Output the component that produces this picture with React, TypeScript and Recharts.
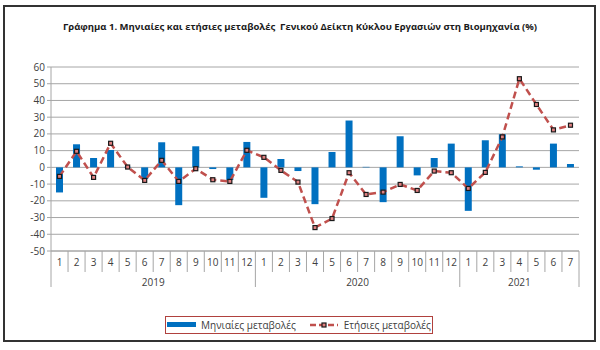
import React from 'react';
import {
  ComposedChart,
  Bar,
  Line,
  XAxis,
  YAxis,
  CartesianGrid,
  Legend,
} from 'recharts';

const months = [
  '1', '2', '3', '4', '5', '6', '7', '8', '9', '10', '11', '12',
  '1', '2', '3', '4', '5', '6', '7', '8', '9', '10', '11', '12',
  '1', '2', '3', '4', '5', '6', '7',
];

const years = [
  '2019', '2019', '2019', '2019', '2019', '2019', '2019', '2019', '2019', '2019', '2019', '2019',
  '2020', '2020', '2020', '2020', '2020', '2020', '2020', '2020', '2020', '2020', '2020', '2020',
  '2021', '2021', '2021', '2021', '2021', '2021', '2021',
];

const monthly = [
  -15, 13.8, 5.6, 10.4, 0.3, -7, 15, -22.6, 12.6, -1, -7.6, 15.2,
  -18.2, 5, -2.2, -22, 9.2, 28, 0.3, -20.8, 18.6, -4.8, 5.6, 14.2,
  -26, 16.2, 19.8, 0.6, -1.4, 14.2, 2,
];

const annual = [
  -5.4, 9.6, -6, 14.4, 0.2, -7.8, 4.2, -8.4, -0.8, -7.4, -8.4, 10.2,
  6, -1.8, -8.8, -36, -30.6, -3.2, -16.2, -14.8, -10.2, -13.8, -2.2, -3.2,
  -12.6, -3, 18.2, 53, 37.6, 22.4, 25.2,
];

const yTicks = [-50, -40, -30, -20, -10, 0, 10, 20, 30, 40, 50, 60];

const data = months.map((m, i) => ({
  key: i,
  month: m,
  year: years[i],
  monthly: monthly[i],
  annual: annual[i],
}));

const FONT = '"Open Sans", "Noto Sans", sans-serif';
const BLUE = '#0070c0';
const RED = '#c0504d';
const GRID = '#a6a6a6';
const TEXT = '#404040';

const MonthTick = (props: any) => {
  const { x, y, payload, index } = props;
  const band =
    payload && payload.offset ? payload.offset * 2 : props.width / props.visibleTicksCount || 17;
  const i = index;
  const left = x - band / 2;
  const firstOfYear = i === 0 || years[i] !== years[i - 1];
  const last = i === months.length - 1;
  let yearLabel = null;
  if (firstOfYear) {
    const count = years.filter((yr) => yr === years[i]).length;
    yearLabel = (
      <text
        x={left + (count * band) / 2}
        y={y + 35}
        textAnchor="middle"
        fontSize={10}
        fill={TEXT}
        fontFamily={FONT}
      >
        {years[i]}
      </text>
    );
  }
  return (
    <g>
      <line x1={left} x2={left} y1={y} y2={y + (firstOfYear ? 36 : 21)} stroke={GRID} />
      {last && (
        <line x1={left + band} x2={left + band} y1={y} y2={y + 36} stroke={GRID} />
      )}
      <text x={x} y={y + 15} textAnchor="middle" fontSize={10} fill={TEXT} fontFamily={FONT}>
        {months[payload.value]}
      </text>
      {yearLabel}
    </g>
  );
};

const SquareDot = (props: any) => {
  const { cx, cy } = props;
  if (cx == null || cy == null) return null;
  return <rect x={cx - 2} y={cy - 2} width={4} height={4} fill="#e08080" stroke="#1a1a1a" strokeWidth={1.2} />;
};

const LegendBox = () => (
  <div
    style={{
      border: '1px solid #b0413e',
      width: 268,
      height: 18,
      display: 'flex',
      alignItems: 'center',
      justifyContent: 'center',
      fontSize: 10,
      fontFamily: FONT,
      color: TEXT,
      background: '#fff',
      boxSizing: 'border-box',
      whiteSpace: 'nowrap',
    }}
  >
    <svg width={29} height={8} style={{ marginRight: 5 }}>
      <rect x={0} y={1} width={29} height={5} fill={BLUE} />
    </svg>
    <span style={{ marginRight: 14 }}>Μηνιαίες μεταβολές</span>
    <svg width={28} height={10} style={{ marginRight: 6 }}>
      <line x1={0} x2={28} y1={5} y2={5} stroke={RED} strokeWidth={2.5} strokeDasharray="6 3" />
      <rect x={12} y={3} width={4} height={4} fill="#e08080" stroke="#1a1a1a" strokeWidth={1.2} />
    </svg>
    <span>Ετήσιες μεταβολές</span>
  </div>
);

export default function App() {
  return (
    <div
      style={{
        position: 'absolute',
        left: 0,
        top: 0,
        width: 600,
        height: 350,
        background: '#fff',
      }}
    >
      <div
        style={{
          position: 'absolute',
          left: 3,
          top: 5,
          width: 589,
          height: 333,
          border: '2px solid #333',
        }}
      />
      <div
        style={{
          position: 'absolute',
          left: 0,
          top: 20,
          width: 600,
          textAlign: 'center',
          fontFamily: FONT,
          fontSize: 9.5,
          fontWeight: 'bold',
          color: '#1a1a1a',
          whiteSpace: 'pre',
        }}
      >
        Γράφημα 1. Μηνιαίες και ετήσιες μεταβολές  Γενικού Δείκτη Κύκλου Εργασιών στη Βιομηχανία (%)
      </div>
      <div style={{ position: 'absolute', left: 0, top: 0 }}>
        <ComposedChart
          width={600}
          height={350}
          data={data}
          margin={{ top: 67, right: 21, bottom: 51, left: 11 }}
          barCategoryGap={0}
        >
          <CartesianGrid vertical={false} stroke={GRID} strokeWidth={1} />
          <XAxis
            dataKey="key"
            interval={0}
            height={48}
            tickLine={false}
            tickSize={0}
            tickMargin={0}
            axisLine={{ stroke: GRID }}
            tick={<MonthTick />}
          />
          <YAxis
            width={40}
            domain={[-50, 60]}
            ticks={yTicks}
            interval={0}
            tickSize={4}
            tickMargin={2}
            axisLine={{ stroke: GRID }}
            tickLine={{ stroke: GRID }}
            tick={{ fontSize: 10, fill: TEXT, fontFamily: FONT }}
          />
          <Bar dataKey="monthly" fill={BLUE} barSize={7} isAnimationActive={false} />
          <Line
            dataKey="annual"
            stroke={RED}
            strokeWidth={2.5}
            strokeDasharray="7 4"
            dot={<SquareDot />}
            activeDot={false}
            isAnimationActive={false}
          />
          <Legend
            verticalAlign="middle"
            align="center"
            content={<LegendBox />}
            wrapperStyle={{ left: 165, top: 316, width: 268, height: 18 }}
          />
        </ComposedChart>
      </div>
    </div>
  );
}
